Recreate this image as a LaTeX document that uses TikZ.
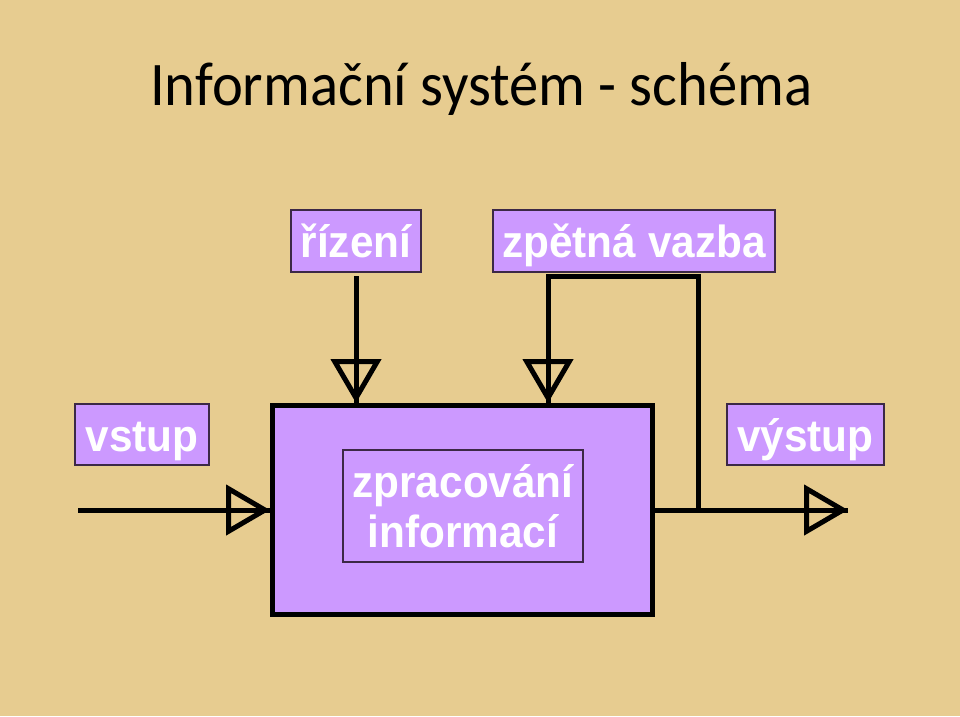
\documentclass[tikz,border=0pt]{standalone}
\usepackage{fontspec}
\setmainfont{Liberation Sans}
\newfontfamily\lblfont[FakeStretch=0.94]{Liberation Sans}
\newfontfamily\titlefont[FakeStretch=0.945]{Carlito}
\usetikzlibrary{arrows.meta}
\definecolor{bgtan}{RGB}{231,204,144}
\definecolor{lilac}{RGB}{204,153,255}
\definecolor{edgedark}{RGB}{60,40,70}
\tikzset{
  label box/.style={draw=edgedark, line width=1.2pt, fill=lilac, inner sep=0pt,
    text=white, font=\lblfont\fontsize{45}{50}\selectfont\bfseries, align=center,
    text height=33pt, text depth=0pt},
  conn/.style={line width=5pt, draw=black, line join=miter},
  opentip/.style={line width=5pt, draw=black, -{Triangle[open,length=44pt,width=50pt]}},
}
\begin{document}
\begin{tikzpicture}[x=1pt,y=-1pt]
\fill[bgtan] (0,0) rectangle (960,716);
\useasboundingbox (0,0) rectangle (960,716);

\node[anchor=base west, font=\titlefont\fontsize{62}{70}\selectfont, inner sep=0pt] (title) at (150,105) {Informační systém - schéma};

\node[label box, minimum width=130pt, minimum height=62pt] (riz) at (356,241) {řízení};
\node[label box, minimum width=282pt, minimum height=62pt] (zv) at (634,241) {zpětná vazba};
\node[label box, minimum width=134pt, minimum height=61pt] (vstup) at (142,434.5) {vstup};
\node[label box, minimum width=157pt, minimum height=61pt] (vystup) at (805.5,434.5) {výstup};

\node[draw=black, line width=5pt, fill=lilac, minimum width=380pt, minimum height=209pt, inner sep=0pt] (main) at (462.5,510) {};
\node[label box, minimum width=240pt, minimum height=112pt, text depth=51pt] (zprac) at (463,506)
  {\begin{tabular}[t]{@{}c@{}}zpracování\\informací\end{tabular}};

\coordinate (inA) at (78,510);
\coordinate (outB) at (848,510);
\coordinate (fbA) at (548,276);
\coordinate (fbB) at (698,276);
\coordinate (fbC) at (698,510);
\coordinate (rizA) at (356,276);

% input
\draw[conn] (inA) -- (inA -| main.west);
\draw[opentip] (inA) -- (inA -| main.west);
% output
\draw[conn] (main.east |- outB) -- (outB);
\draw[opentip] (main.east |- outB) -- (outB);
% control
\draw[conn] (rizA) -- (rizA |- main.north);
\draw[opentip] (rizA) -- (rizA |- main.north);
% feedback
\draw[conn] (fbC) -- (fbB) -- (fbA) -- (fbA |- main.north);
\draw[opentip] (fbA) -- (fbA |- main.north);
\end{tikzpicture}
\end{document}
